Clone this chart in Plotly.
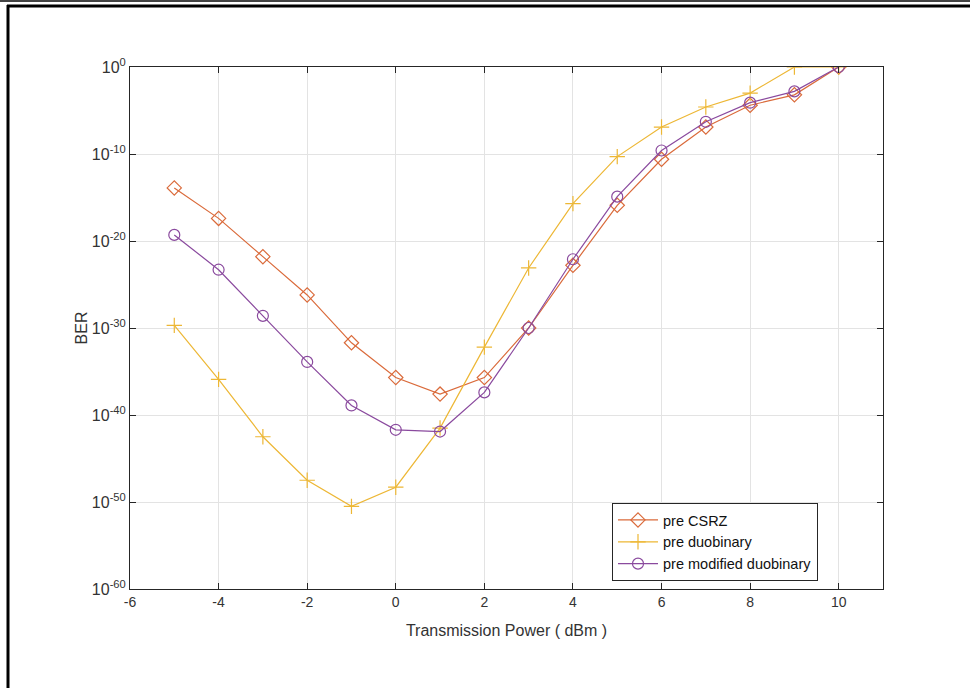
import plotly.graph_objects as go

power = [-5, -4, -3, -2, -1, 0, 1, 2, 3, 4, 5, 6, 7, 8, 9, 10]

# log10(BER)
csrz_log = [-13.9, -17.4, -21.8, -26.2, -31.7, -35.7, -37.6, -35.7, -30.0, -22.8, -15.9, -10.6, -6.9, -4.4, -3.2, 0.0]
duob_log = [-29.7, -35.9, -42.5, -47.5, -50.5, -48.3, -41.5, -32.2, -23.1, -15.7, -10.3, -6.9, -4.6, -3.0, 0.0, 0.0]
mod_log = [-19.3, -23.3, -28.6, -33.9, -38.9, -41.7, -41.9, -37.4, -30.0, -22.1, -14.9, -9.6, -6.3, -4.1, -2.8, 0.0]

series_names = ["pre CSRZ", "pre duobinary", "pre modified duobinary"]
x_ticks = [-6, -4, -2, 0, 2, 4, 6, 8, 10]
y_tick_exps = [0, -10, -20, -30, -40, -50, -60]

colors = ["#DA6A3A", "#EDB735", "#8A4A9E"]
symbols = ["diamond-open", "cross-thin-open", "circle-open"]
data = [csrz_log, duob_log, mod_log]

fig = go.Figure()
for name, vals, c, s in zip(series_names, data, colors, symbols):
    fig.add_trace(go.Scatter(
        x=power, y=[10.0 ** v for v in vals], name=name,
        mode="lines+markers",
        line=dict(color=c, width=1.2),
        marker=dict(symbol=s, size=11, color=c, line=dict(color=c, width=1.2)),
    ))

L, R, T, B = 130, 87, 67, 99
W, H = 970, 688
pw, ph = W - L - R, H - T - B

def px(x):
    return (x - L) / pw

def py(y):
    return (H - B - y) / ph

FONT = "Liberation Sans, Arial"
axis_common = dict(
    showline=True, linecolor="#262626", linewidth=1, mirror="ticks",
    ticks="inside", ticklen=6, tickcolor="#262626",
    showgrid=True, gridcolor="#e3e3e3", gridwidth=1,
    zeroline=False,
)

fig.update_layout(
    width=W, height=H,
    margin=dict(l=L, r=R, t=T, b=B),
    paper_bgcolor="white", plot_bgcolor="white",
    showlegend=True,
    legend=dict(
        x=px(612), y=py(503), xanchor="left", yanchor="top",
        bgcolor="white", bordercolor="#262626", borderwidth=1,
        font=dict(family=FONT, size=14.5, color="#111111"),
        tracegroupgap=0, itemwidth=40,
    ),
    xaxis=dict(
        range=[-6, 11], tickvals=x_ticks, ticktext=[str(v) for v in x_ticks],
        tickfont=dict(family=FONT, size=14, color="#333333"),
        title=dict(text="Transmission Power ( dBm )", standoff=16,
                   font=dict(family=FONT, size=16, color="#333333")),
        **axis_common,
    ),
    yaxis=dict(
        type="log", range=[-60, 0],
        tickvals=[10.0 ** e for e in y_tick_exps],
        ticktext=["10<sup>%d</sup>" % e for e in y_tick_exps],
        tickfont=dict(family=FONT, size=16, color="#333333"),
        title=dict(text="BER", standoff=0,
                   font=dict(family=FONT, size=16, color="#333333")),
        **axis_common,
    ),
    shapes=[
        dict(type="line", xref="paper", yref="paper", x0=px(0), x1=px(W), y0=py(1), y1=py(1),
             line=dict(color="#444444", width=2)),
        dict(type="line", xref="paper", yref="paper", x0=px(7), x1=px(W), y0=py(6), y1=py(6),
             line=dict(color="black", width=3)),
        dict(type="line", xref="paper", yref="paper", x0=px(8), x1=px(8), y0=py(5), y1=py(H),
             line=dict(color="black", width=3)),
    ],
)

fig.write_html("out.html", config={"displayModeBar": False},
               post_script="document.body.style.margin='0';document.body.style.overflow='hidden';")
